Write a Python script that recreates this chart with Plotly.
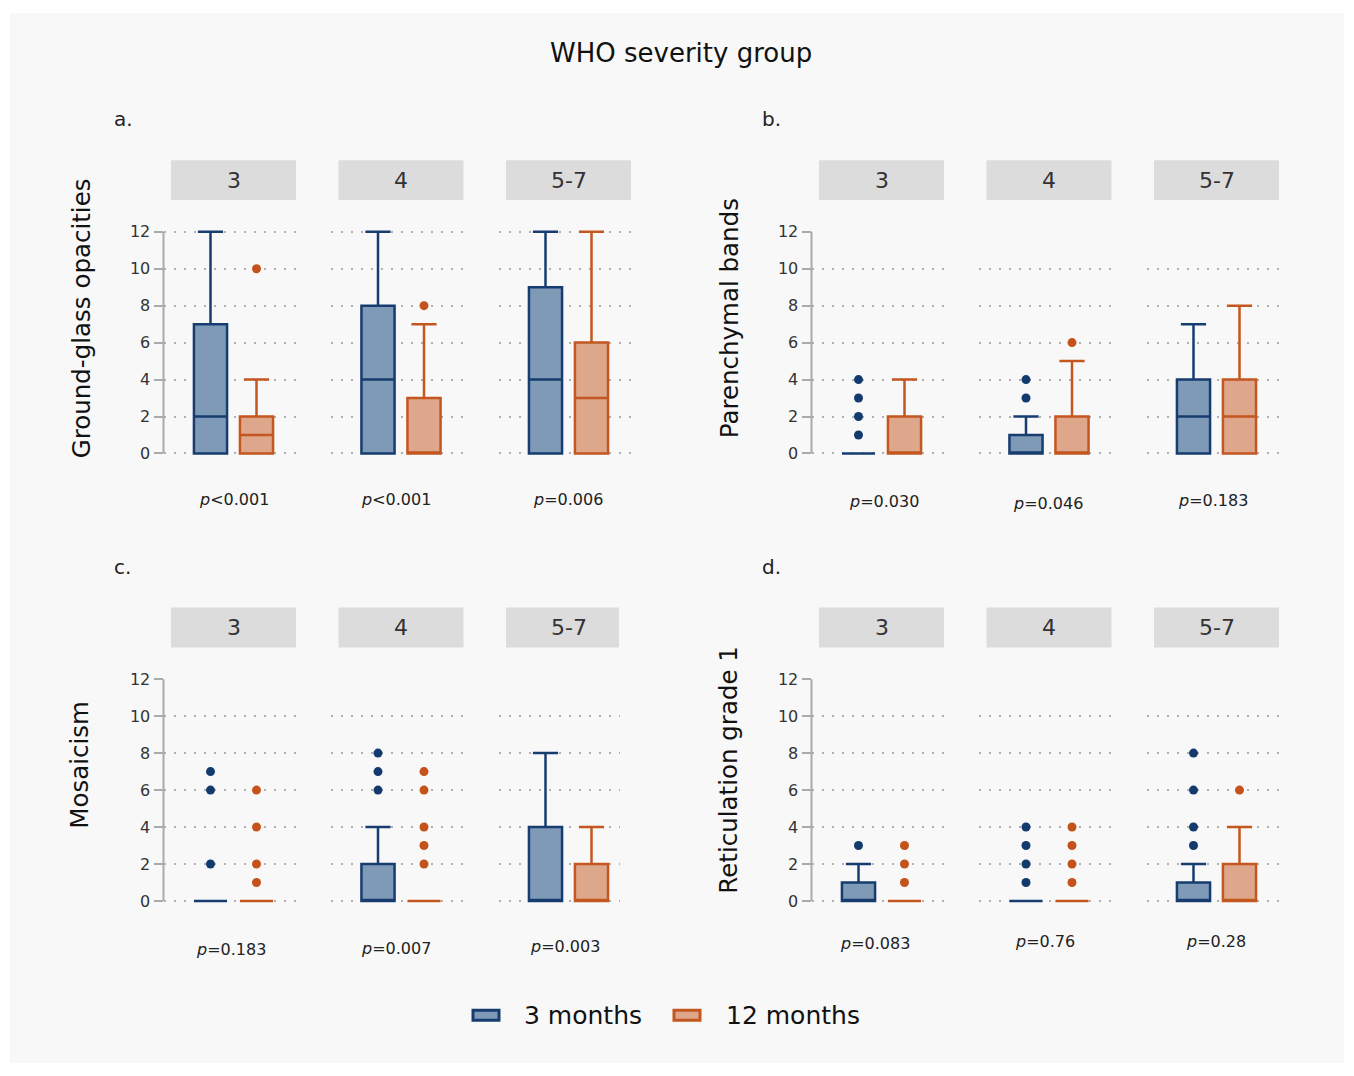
import plotly.graph_objects as go

# ---------------- data ----------------
groups = ["3", "4", "5-7"]
series_names = ["3 months", "12 months"]
panel_letters = ["a.", "b.", "c.", "d."]
panel_titles = ["Ground-glass opacities", "Parenchymal bands", "Mosaicism", "Reticulation grade 1"]
y_tick_vals = [0, 2, 4, 6, 8, 10, 12]

# box stats: (lowerfence, q1, median, q3, upperfence) per WHO group
ggo_3m = [(0, 0, 2, 7, 12), (0, 0, 4, 8, 12), (0, 0, 4, 9, 12)]
ggo_12m = [(0, 0, 1, 2, 4), (0, 0, 0, 3, 7), (0, 0, 3, 6, 12)]
ggo_3m_out = [[], [], []]
ggo_12m_out = [[10], [8], []]

pb_3m = [(0, 0, 0, 0, 0), (0, 0, 0, 1, 2), (0, 0, 2, 4, 7)]
pb_12m = [(0, 0, 0, 2, 4), (0, 0, 0, 2, 5), (0, 0, 2, 4, 8)]
pb_3m_out = [[1, 2, 3, 4], [3, 4], []]
pb_12m_out = [[], [6], []]

mos_3m = [(0, 0, 0, 0, 0), (0, 0, 0, 2, 4), (0, 0, 0, 4, 8)]
mos_12m = [(0, 0, 0, 0, 0), (0, 0, 0, 0, 0), (0, 0, 0, 2, 4)]
mos_3m_out = [[2, 6, 7], [6, 7, 8], []]
mos_12m_out = [[1, 2, 4, 6], [2, 3, 4, 6, 7], []]

ret_3m = [(0, 0, 0, 1, 2), (0, 0, 0, 0, 0), (0, 0, 0, 1, 2)]
ret_12m = [(0, 0, 0, 0, 0), (0, 0, 0, 0, 0), (0, 0, 0, 2, 4)]
ret_3m_out = [[3], [1, 2, 3, 4], [3, 4, 6, 8]]
ret_12m_out = [[1, 2, 3], [1, 2, 3, 4], [6]]

p_ggo = ["p<0.001", "p<0.001", "p=0.006"]
p_pb = ["p=0.030", "p=0.046", "p=0.183"]
p_mos = ["p=0.183", "p=0.007", "p=0.003"]
p_ret = ["p=0.083", "p=0.76", "p=0.28"]

panels_stats = [(ggo_3m, ggo_12m), (pb_3m, pb_12m), (mos_3m, mos_12m), (ret_3m, ret_12m)]
panels_out = [(ggo_3m_out, ggo_12m_out), (pb_3m_out, pb_12m_out),
              (mos_3m_out, mos_12m_out), (ret_3m_out, ret_12m_out)]
panels_p = [p_ggo, p_pb, p_mos, p_ret]
panel_grid_vals = [[0, 2, 4, 6, 8, 10, 12], [0, 2, 4, 6, 8, 10],
                   [0, 2, 4, 6, 8, 10], [0, 2, 4, 6, 8, 10]]

# ---------------- style / layout ----------------
OFF = 8                # page body margin
FW, FH = 1354 - 2 * OFF, 1076 - 2 * OFF
FONT = "DejaVu Sans"
line_cols = ["#163c70", "#c4561f"]
fill_cols = ["#7f9ab7", "#dea68a"]
dot_cols = ["#123a6d", "#c4531b"]


def fx(p):
    return (p - OFF) / FW


def fy(p):
    return 1 - (p - OFF) / FH


panel_first_center = [233.5, 881.5, 233.5, 881.5]
panel_dy = [0, 0, 450, 450]
panel_dx = [0, 648, 0, 648]
facet_step = 167.5
half_dom = 70
unit_px = 46.0
ypad = 0.35
p_pos = [[(234, 499), (396, 499), (568, 499)],
         [(884, 501), (1048, 503), (1213, 500)],
         [(231, 952), (396, 951), (565, 949)],
         [(875, 946), (1045, 944), (1216, 944)]]

fig = go.Figure()
layout = dict(
    width=FW, height=FH,
    margin=dict(l=0, r=0, t=0, b=0),
    paper_bgcolor="white",
    plot_bgcolor="rgba(0,0,0,0)",
    font=dict(family=FONT, color="#222"),
    showlegend=False,
)
shapes = [dict(type="rect", xref="paper", yref="paper", x0=fx(10), x1=fx(1344),
               y0=fy(1066), y1=fy(10), fillcolor="#f8f8f8", line=dict(width=0), layer="below")]
annotations = []

for p in range(4):
    dy = panel_dy[p]
    y_top = 230 + dy
    y_bot = 453 + dy
    ppu = (y_bot - y_top) / 12.0
    dom_y = [fy(y_bot + ypad * ppu), fy(y_top - ypad * ppu)]
    for f in range(3):
        n = p * 3 + f + 1
        sfx = "" if n == 1 else str(n)
        c = panel_first_center[p] + f * facet_step
        left = c - half_dom
        right = c + half_dom
        if p == 2 and f == 2:
            right = 620
        r0 = 0.5 - half_dom / unit_px
        r1 = r0 + (right - left) / unit_px
        layout["xaxis" + sfx] = dict(domain=[fx(left), fx(right)], range=[r0, r1],
                                     anchor="y" + sfx, visible=False, fixedrange=True)
        ycfg = dict(domain=dom_y, range=[-ypad, 12 + ypad], anchor="x" + sfx,
                    showgrid=False, zeroline=False, showline=False, fixedrange=True,
                    minor=dict(tickmode="array", tickvals=panel_grid_vals[p], showgrid=True,
                               gridcolor="#b0b0b0", gridwidth=1.6, griddash="2px,8px", ticks=""))
        if f == 0:
            ycfg.update(tickmode="array", tickvals=y_tick_vals, ticks="outside", ticklen=9,
                        tickwidth=1.5, tickcolor="#aaaaaa", showticklabels=True,
                        tickfont=dict(size=16, color="#333", family=FONT))
            shapes.append(dict(type="line", xref="x%s domain" % sfx, yref="y" + sfx,
                               x0=0, x1=0, y0=0, y1=12,
                               line=dict(color="#aaaaaa", width=2)))
        else:
            ycfg.update(showticklabels=False, ticks="", tickmode="array", tickvals=y_tick_vals)
        layout["yaxis" + sfx] = ycfg

        # strip header
        hl, hr = c - 62.5, c + 62.5
        if p == 2 and f == 2:
            hr = 619
        shapes.append(dict(type="rect", xref="paper", yref="paper", x0=fx(hl), x1=fx(hr),
                           y0=fy(198 + dy), y1=fy(158 + dy), fillcolor="#dcdcdc",
                           line=dict(width=0), layer="below"))
        annotations.append(dict(text=groups[f], xref="paper", yref="paper", x=fx(c),
                                y=fy(178 + dy), showarrow=False, xanchor="center", yanchor="middle",
                                font=dict(size=22, color="#333", family=FONT)))

        # boxes
        for s in range(2):
            lf, q1, med, q3, uf = panels_stats[p][s][f]
            fig.add_trace(go.Box(
                x=[s], q1=[q1], median=[med], q3=[q3], lowerfence=[lf], upperfence=[uf],
                width=0.72, whiskerwidth=0.76, name=series_names[s], legendgroup=series_names[s],
                showlegend=False, fillcolor=fill_cols[s], line=dict(color=line_cols[s], width=2.5),
                boxpoints=False, xaxis="x" + sfx, yaxis="y" + sfx, hoverinfo="skip"))
            outs = panels_out[p][s][f]
            if outs:
                fig.add_trace(go.Scatter(
                    x=[s] * len(outs), y=outs, mode="markers",
                    marker=dict(color=dot_cols[s], size=9), showlegend=False,
                    xaxis="x" + sfx, yaxis="y" + sfx, hoverinfo="skip", cliponaxis=False))

        # p-value
        txt = panels_p[p][f]
        html = "<i>p</i>" + txt[1:].replace("<", "&lt;")
        px_, py_ = p_pos[p][f]
        annotations.append(dict(text=html, xref="paper", yref="paper", x=fx(px_), y=fy(py_),
                                showarrow=False, xanchor="center", yanchor="middle",
                                font=dict(size=16, color="#222", family=FONT)))

    annotations.append(dict(text=panel_letters[p], xref="paper", yref="paper",
                            x=fx(112 + panel_dx[p]), y=fy(117 + dy), showarrow=False,
                            xanchor="left", yanchor="middle",
                            font=dict(size=20, color="#222", family=FONT)))

title_pos = [(81, 317), (729, 317), (80, 766), (729, 771)]
for p in range(4):
    tx, ty = title_pos[p]
    annotations.append(dict(text=panel_titles[p], xref="paper", yref="paper", x=fx(tx), y=fy(ty),
                            showarrow=False, textangle=-90, xanchor="center", yanchor="middle",
                            font=dict(size=24.5, color="#111", family=FONT)))

annotations.append(dict(text="WHO severity group", xref="paper", yref="paper", x=fx(681), y=fy(50),
                        showarrow=False, xanchor="center", yanchor="middle",
                        font=dict(size=26, color="#111", family=FONT)))

# legend (swatches + labels)
legend_icon_x = [(473, 499), (674, 700)]
legend_text_x = [522, 724]
for s in range(2):
    x0, x1 = legend_icon_x[s]
    shapes.append(dict(type="rect", xref="paper", yref="paper", x0=fx(x0), x1=fx(x1),
                       y0=fy(1023), y1=fy(1013), fillcolor=fill_cols[s],
                       line=dict(color=line_cols[s], width=3)))
    annotations.append(dict(text=series_names[s], xref="paper", yref="paper",
                            x=fx(legend_text_x[s]), y=fy(1018), showarrow=False,
                            xanchor="left", yanchor="middle",
                            font=dict(size=25, color="#111", family=FONT)))

layout["shapes"] = shapes
layout["annotations"] = annotations
fig.update_layout(**layout)
fig.write_html("out.html")
